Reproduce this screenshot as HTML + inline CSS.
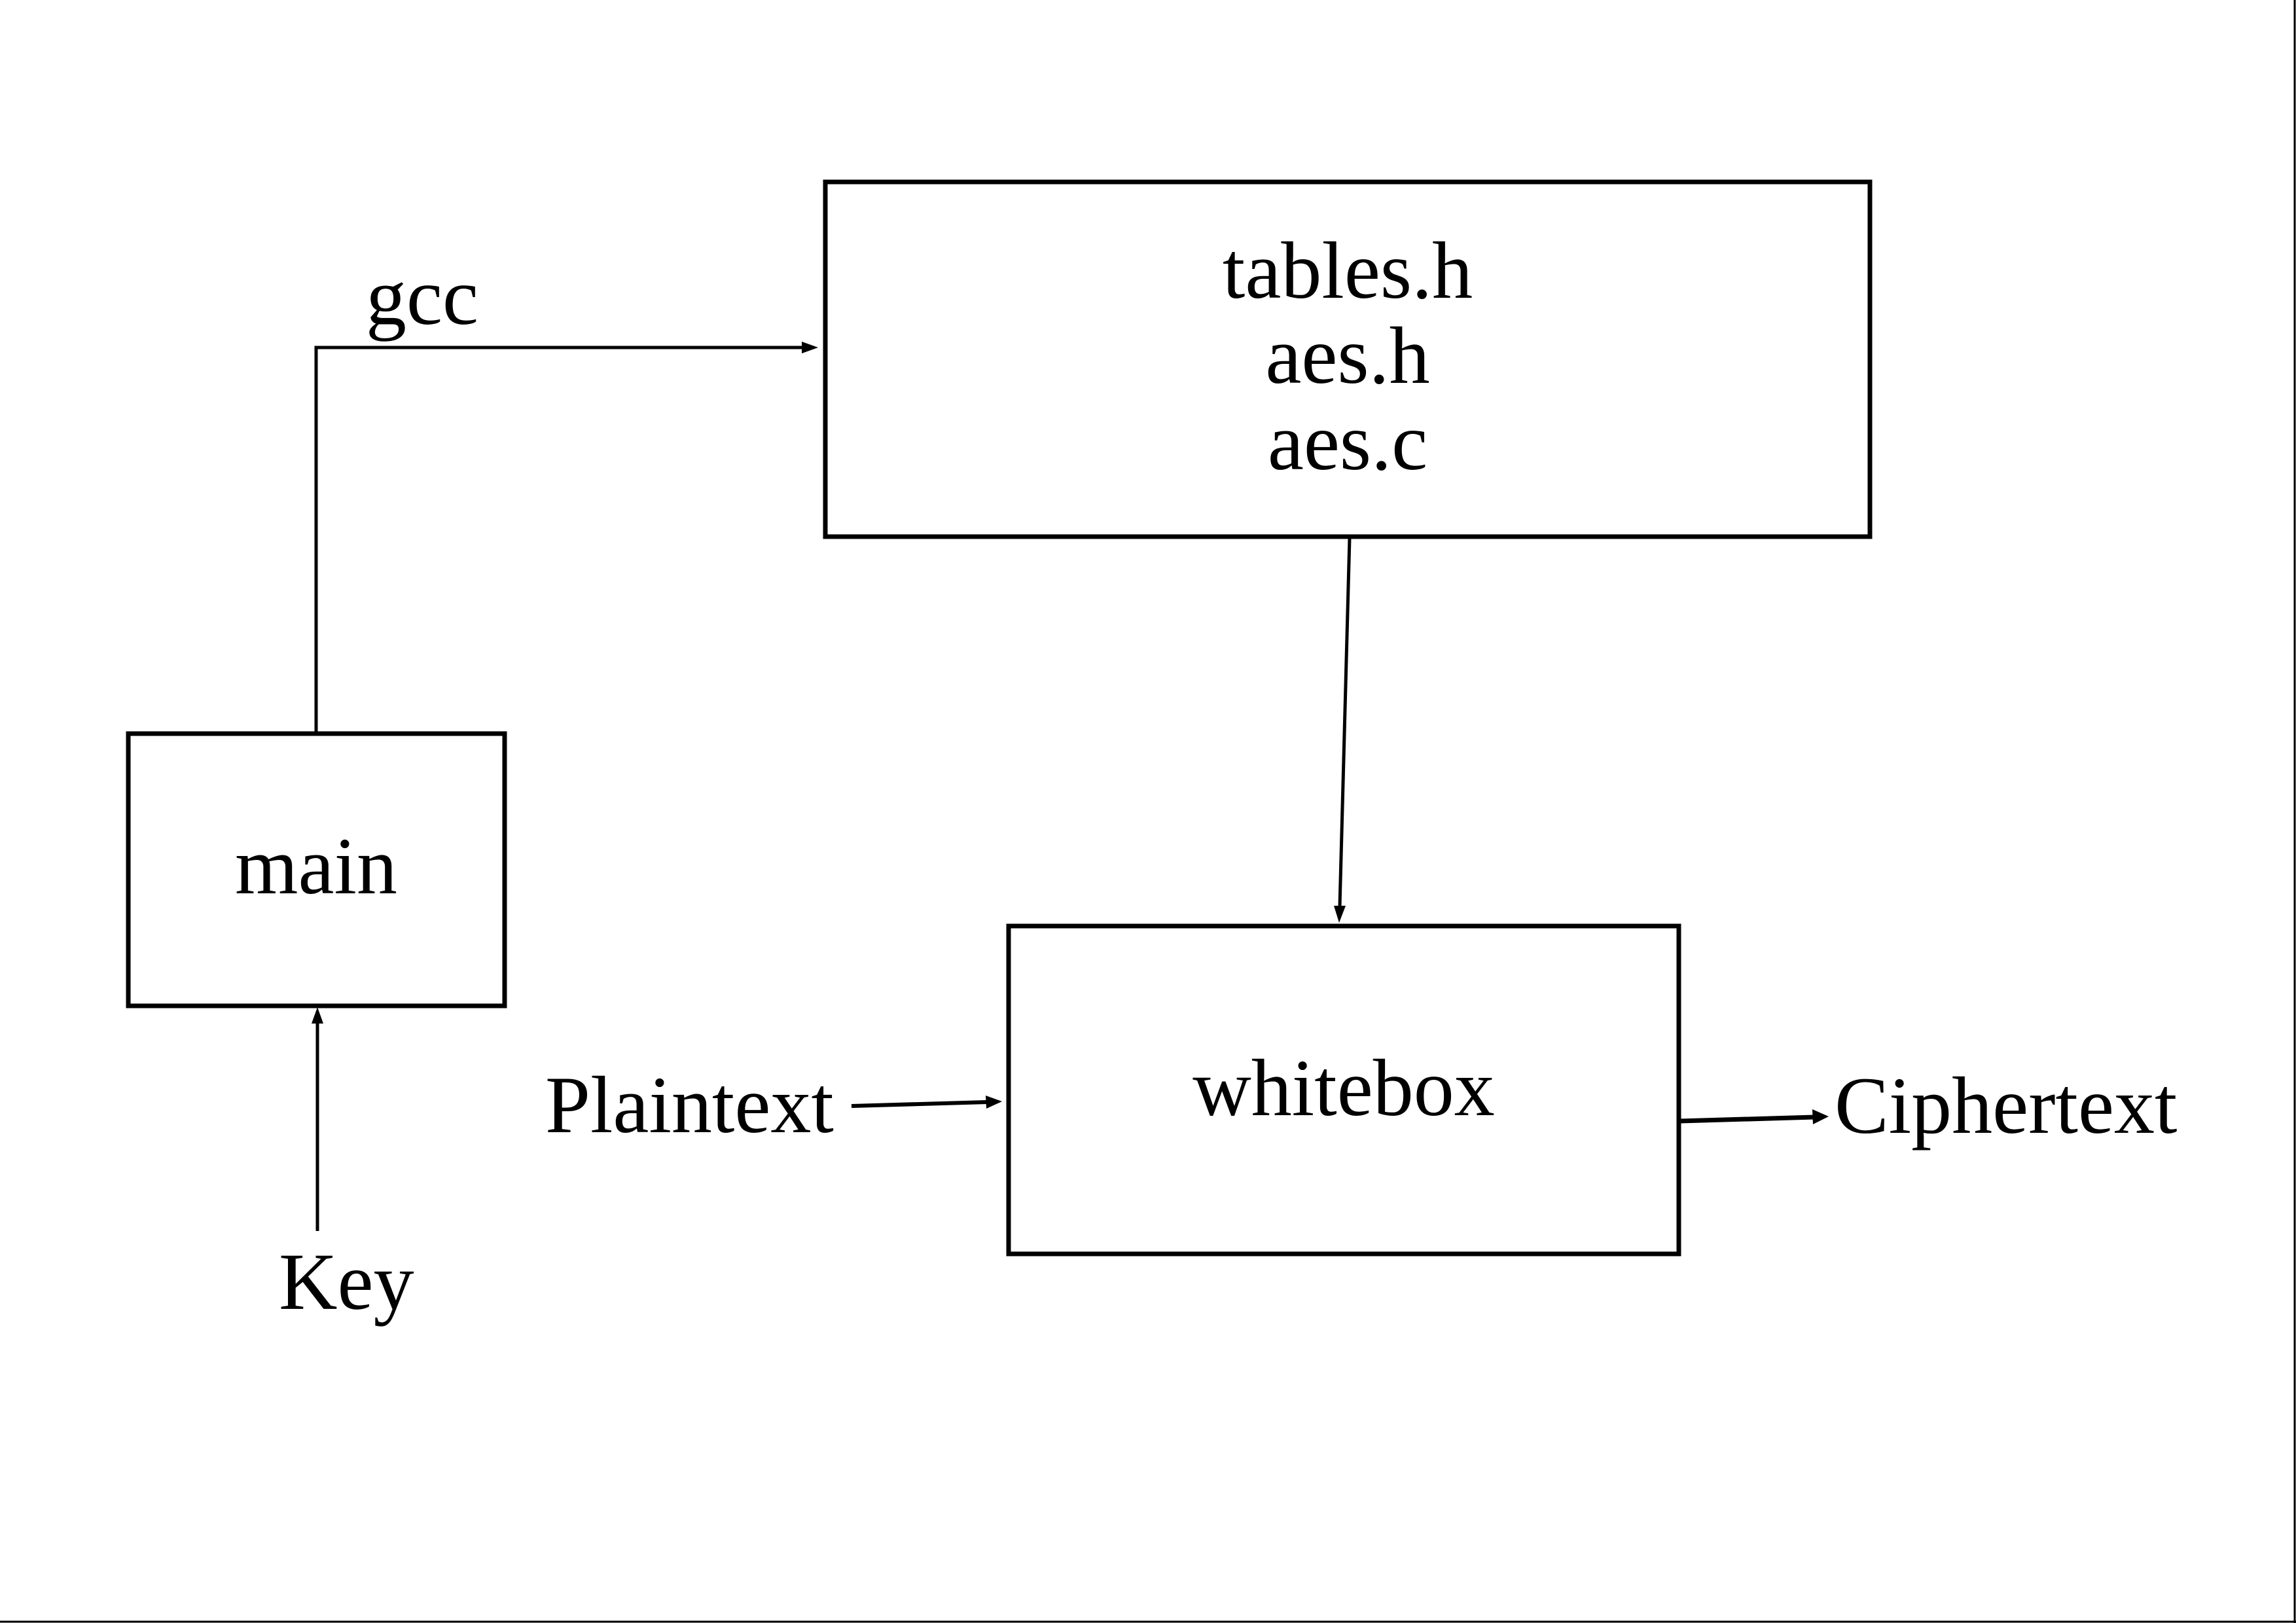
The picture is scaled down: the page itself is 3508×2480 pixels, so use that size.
<!DOCTYPE html>
<html><head><meta charset="utf-8"><style>
html,body{margin:0;padding:0;background:#fff;}
svg{display:block;}
text{font-family:"Liberation Serif",serif;font-size:124px;fill:#000;}
</style></head><body>
<svg width="3508" height="2480" viewBox="0 0 3508 2480" xmlns="http://www.w3.org/2000/svg">
<rect x="0" y="0" width="3508" height="2480" fill="#fff"/>
<line x1="3506" y1="0" x2="3506" y2="2480" stroke="#000" stroke-width="3"/>
<line x1="0" y1="2478" x2="3508" y2="2478" stroke="#000" stroke-width="3"/>
<!-- boxes -->
<rect x="1261" y="278" width="1596" height="542" fill="none" stroke="#000" stroke-width="7"/>
<rect x="196" y="1121" width="575" height="416" fill="none" stroke="#000" stroke-width="7"/>
<rect x="1541" y="1415" width="1024" height="501" fill="none" stroke="#000" stroke-width="7"/>
<!-- gcc connector -->
<polyline points="483,1118 483,531 1228,531" fill="none" stroke="#000" stroke-width="5"/>
<polygon points="1250,531 1225,522 1225,540" fill="#000"/>
<!-- tables -> whitebox -->
<line x1="2062" y1="822" x2="2047" y2="1385" stroke="#000" stroke-width="5"/>
<polygon points="2046,1410 2038,1384 2056,1384" fill="#000"/>
<!-- key -> main -->
<line x1="485" y1="1881" x2="485" y2="1562" stroke="#000" stroke-width="5"/>
<polygon points="485,1539 476,1564 494,1564" fill="#000"/>
<!-- plaintext -> whitebox -->
<line x1="1301" y1="1690" x2="1508" y2="1684" stroke="#000" stroke-width="6"/>
<polygon points="1531,1683 1506,1674 1507,1694" fill="#000"/>
<!-- whitebox -> ciphertext -->
<line x1="2567" y1="1713" x2="2772" y2="1707" stroke="#000" stroke-width="7"/>
<polygon points="2794,1706 2769,1695 2770,1718" fill="#000"/>
<!-- texts -->
<text x="559" y="495" font-size="120">gcc</text>
<text x="2059" y="455" text-anchor="middle">tables.h</text>
<text x="2059" y="585" text-anchor="middle">aes.h</text>
<text x="2059" y="717" text-anchor="middle">aes.c</text>
<text x="483" y="1365" text-anchor="middle" font-size="122">main</text>
<text x="2053" y="1704" text-anchor="middle">whitebox</text>
<text x="833" y="1730">Plaintext</text>
<text x="2803" y="1731">Ciphertext</text>
<text x="426" y="2000">Key</text>
</svg>
</body></html>
